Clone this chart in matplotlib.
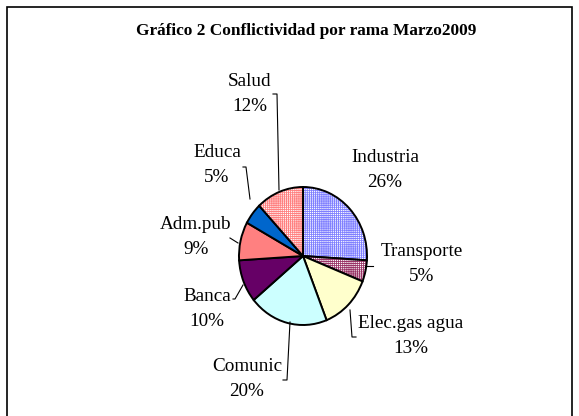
import matplotlib
matplotlib.use("Agg")
import matplotlib.pyplot as plt
from matplotlib.patches import Rectangle

categories = ["Industria", "Transporte", "Elec.gas agua", "Comunic", "Banca", "Adm.pub", "Educa", "Salud"]
values = [26, 5, 13, 20, 10, 9, 5, 12]
title = "Gráfico 2 Conflictividad por rama Marzo2009"

# styles
face = ["white", "white", "#ffffcc", "#ccffff", "#660066", "#ff8080", "#0066cc", "white"]
hatch = ["++++++++", "++++++++", None, None, None, None, None, "++++++++"]
hatch_col = ["#8080ff", "#993366", None, None, None, None, None, "#ff8080"]

W, H = 579, 416
fig = plt.figure(figsize=(W / 100, H / 100), dpi=100)
ax = fig.add_axes([0, 0, 1, 1])
cx, cy, rx, ry = 303, 256, 64, 69

def px(x, y):
    return ((x - cx) / rx, (cy - y) / ry)

plt.rcParams["hatch.linewidth"] = 0.6
wedges, _ = ax.pie(values, startangle=90, counterclock=False, radius=1,
                   wedgeprops=dict(edgecolor="black", linewidth=1.4))
for w, f, h, hc in zip(wedges, face, hatch, hatch_col):
    w.set_facecolor(f)
    if h:
        w.set_hatch(h)
        w._hatch_color = matplotlib.colors.to_rgba(hc)
ax.set_xlim(-cx / rx, (W - cx) / rx)
ax.set_ylim(-(H - cy) / ry, cy / ry)
ax.set_aspect("auto")
ax.axis("off")

# frame
fig.patches.append(Rectangle((7 / W, -0.1), (572 - 7) / W, (416 - 7) / H + 0.1,
                             transform=fig.transFigure, fill=False, edgecolor="black", linewidth=1.2))

font = "Liberation Serif"
fig.text(306 / W, 1 - 31 / H, title, ha="center", va="center", fontsize=12.4,
         fontweight="bold", family=font)

label_pos = [(385, 170), (422, 264), (411, 336), (247, 379), (207, 309), (196, 237), (217, 165), (250, 94)]
for name, v, (x, y) in zip(categories, values, label_pos):
    ax.text(*px(x, y), f"{name}\n{v}%", ha="center", va="center", fontsize=13.8,
            family=font, linespacing=1.55)

leaders = [
    [(273, 94), (277, 94), (279, 190)],
    [(243, 167), (246, 167), (250, 199)],
    [(230, 238), (238, 243)],
    [(233, 299), (235, 299), (243, 285)],
    [(283, 380), (287, 380), (290, 322)],
    [(350, 310), (352, 337), (356, 337)],
    [(365, 266), (373, 266)],
]
for pts in leaders:
    xs, ys = zip(*[px(x, y) for x, y in pts])
    ax.plot(xs, ys, color="black", linewidth=0.8)

fig.savefig("out.png", dpi=100)
